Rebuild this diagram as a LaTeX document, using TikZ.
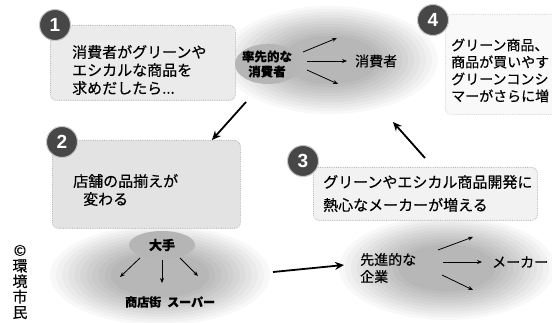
\documentclass[tikz,border=0pt]{standalone}
\usepackage{fontspec}
\setmainfont{Noto Sans CJK JP}[FakeBold=0.4]
\newfontfamily\numfont{Liberation Sans}
\usetikzlibrary{arrows.meta,shapes.geometric}
\newcommand{\cloudblob}[3]{%
  \foreach \k in {1,...,11} {%
    \fill[black, fill opacity=0.026] (#1) ellipse [x radius={(#2)*(1.055-0.055*\k)*1pt}, y radius={(#3)*(1.055-0.055*\k)*1pt}];
  }}
\begin{document}
\begin{tikzpicture}[x=1pt,y=-1pt,
  box/.style={draw=gray!55, densely dotted, line width=0.8pt, fill=gray!18, rounded corners=6pt, anchor=north west, inner sep=0pt},
  core/.style={ellipse, draw=none, fill=gray!58, inner sep=0pt},
  num/.style={circle, fill=black!72, draw=gray!45, line width=1pt, text=white, inner sep=0pt, minimum size=31pt, font=\numfont\bfseries\fontsize{19}{19}\selectfont},
  jt/.style={font=\fontsize{15}{18}\selectfont, align=left, inner sep=0pt, anchor=west},
  big/.style={line width=1.8pt, -{Stealth[length=9pt,width=8pt]}},
  small/.style={line width=0.8pt, -{Stealth[length=5pt,width=4pt]}}
]
\clip (0,0) rectangle (552,323);
\fill[white] (0,0) rectangle (552,323);

% clouds
\coordinate (c1) at (330,60);
\coordinate (c2) at (160,275);
\coordinate (c3) at (447,268);
\cloudblob{c1}{108}{54}
\cloudblob{c2}{110}{50}
\cloudblob{c3}{108}{52}

% faint box 4
\node[box, draw=gray!30, fill=gray!5, minimum width=120pt, minimum height=100pt] (b4) at (445,14) {};

% box 1
\node[box, fill=gray!16, minimum width=185pt, minimum height=75pt] (b1) at (50,25) {};
\node[jt] (t1) at (72,70) {消費者がグリーンや\\エシカルな商品を\\求めだしたら...};

% leading consumers
\node[core, minimum width=66pt, minimum height=40pt] (lead) at (268,64) {};
\node[font=\bfseries\fontsize{12.5}{15}\selectfont, align=center, inner sep=0pt] (leadt) at (267,64) {率先的な\\消費者};
\coordinate (la1) at (303,52); \coordinate (lb1) at (337,38);
\coordinate (la2) at (307,61); \coordinate (lb2) at (347,61);
\coordinate (la3) at (307,70); \coordinate (lb3) at (338,84);
\draw[small] (la1) -- (lb1);
\draw[small] (la2) -- (lb2);
\draw[small] (la3) -- (lb3);
\node[jt, font=\fontsize{14}{16}\selectfont] (cons) at (355,61) {消費者};

% box 4 text
\node[jt, font=\fontsize{14}{17}\selectfont] (t4) at (451,70.5) {グリーン商品、\\商品が買いやす\\グリーンコンシ\\マーがさらに増};

% box 2
\node[box, fill=gray!22, minimum width=188pt, minimum height=88pt] (b2) at (52,140) {};
\node[jt] (t2) at (73,190) {店舗の品揃えが\\\hspace*{10pt}変わる};

% retailers
\node[core, minimum width=66pt, minimum height=28pt] (major) at (162,245) {};
\node[font=\bfseries\fontsize{13}{13}\selectfont, inner sep=0pt] (majort) at (162,245) {大手};
\coordinate (ma1) at (140,258); \coordinate (mb1) at (120,277);
\coordinate (ma2) at (162,260); \coordinate (mb2) at (162,283);
\coordinate (ma3) at (180,258); \coordinate (mb3) at (198,276);
\draw[small] (ma1) -- (mb1);
\draw[small] (ma2) -- (mb2);
\draw[small] (ma3) -- (mb3);
\node[jt, font=\bfseries\fontsize{12}{12}\selectfont] (shops) at (125,302) {商店街\hspace{6pt}スーパー};

% box 3
\node[box, fill=gray!10, minimum width=224pt, minimum height=53pt] (b3) at (313,167) {};
\node[jt, font=\fontsize{15}{23}\selectfont] (t3) at (323,193.5) {グリーンやエシカル商品開発に\\熱心なメーカーが増える};

% advanced companies
\node[jt, font=\fontsize{14}{17}\selectfont] (adv) at (360,268) {先進的な\\企業};
\coordinate (aa1) at (438,250); \coordinate (ab1) at (473,237);
\coordinate (aa2) at (443,262); \coordinate (ab2) at (482,262);
\coordinate (aa3) at (442,275); \coordinate (ab3) at (473,290);
\draw[small] (aa1) -- (ab1);
\draw[small] (aa2) -- (ab2);
\draw[small] (aa3) -- (ab3);
\node[jt, font=\fontsize{14}{14}\selectfont] (maker) at (492,262) {メーカー};

% big arrows
\coordinate (p1s) at (246,102); \coordinate (p1e) at (212,140);
\coordinate (p2s) at (273,272); \coordinate (p2e) at (344,265);
\coordinate (p3s) at (425,158); \coordinate (p3e) at (393,122);
\draw[big] (p1s) -- (p1e);
\draw[big] (p2s) -- (p2e);
\draw[big] (p3s) -- (p3e);

% number badges
\node[num] (n1) at (55,25) {1};
\node[num] (n2) at (62,142) {2};
\node[num] (n3) at (303,161) {3};
\node[num] (n4) at (433,20) {4};

% credit
\node[font=\fontsize{15}{15.5}\selectfont, align=center, inner sep=0pt] (credit) at (20,282) {©\\環\\境\\市\\民};
\end{tikzpicture}
\end{document}
